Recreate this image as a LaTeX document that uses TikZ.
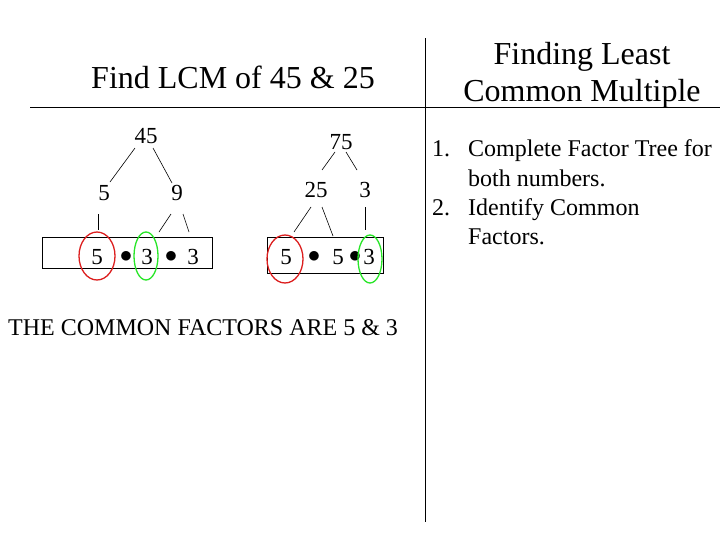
\documentclass[tikz,border=0pt]{standalone}
\usepackage{fontspec}
\setmainfont{Liberation Serif}
\begin{document}
\begin{tikzpicture}[x=1pt,y=-1pt,
  num/.style={inner sep=0pt,font=\fontsize{23}{23}\selectfont},
  lst/.style={anchor=base west,inner sep=0pt,font=\fontsize{24}{24}\selectfont},
  ln/.style={black,line width=0.6pt},
  red/.style={draw={rgb,255:red,220;green,30;blue,30},line width=1.3pt},
  grn/.style={draw={rgb,255:red,40;green,230;blue,40},line width=1.3pt}]
\useasboundingbox (0,0) rectangle (728,546);
\fill[white] (0,0) rectangle (728,546);
\node[font=\fontsize{32}{32}\selectfont] (t1) at (233,77) {Find LCM of 45 \& 25};
\node[font=\fontsize{32}{37}\selectfont,align=center] (t2) at (582,75) {Finding Least\\Common Multiple};
\coordinate (h1) at (30,107); \coordinate (h2) at (720,107);
\draw[ln] (h1) -- (h2);
\coordinate (v1) at (425,38); \coordinate (v2) at (425,522);
\draw[ln] (v1) -- (v2);
% list
\node[lst] (l1) at (432,156) {1.};
\node[lst] (l1a) at (468,156) {Complete Factor Tree for};
\node[lst] (l1b) at (468,186) {both numbers.};
\node[lst] (l2) at (432,215) {2.};
\node[lst] (l2a) at (468,215) {Identify Common};
\node[lst] (l2b) at (468,244) {Factors.};
\node[lst] (cf) at (8,335) {THE COMMON FACTORS ARE 5 \& 3};
% left tree
\node[num] (a45) at (146,136) {45};
\node[num] (a5) at (104,193) {5};
\node[num] (a9) at (177,193) {9};
\draw[ln] (135,148) -- (110,182);
\draw[ln] (153,148) -- (172,183);
\draw[ln] (98,214) -- (98,230);
\draw[ln] (171,214) -- (159,232);
\draw[ln] (183,214) -- (189,232);
\node[draw,ln,minimum width=170pt,minimum height=31pt,inner sep=0pt] (bx1) at (127,252.5) {};
\node[num] (b5) at (97,257) {5};
\node[num] (bd1) at (126,257) {$\bullet$};
\node[num] (b3) at (147,257) {3};
\node[num] (bd2) at (171,257) {$\bullet$};
\node[num] (b3b) at (193,257) {3};
\draw[red] (97,256) ellipse [x radius=18,y radius=24];
\draw[grn] (146,256) ellipse [x radius=12,y radius=24];
% right tree
\node[num] (c75) at (341,142) {75};
\node[num] (c25) at (316,190) {25};
\node[num] (c3) at (365,190) {3};
\draw[ln] (335,152) -- (322,170);
\draw[ln] (346,152) -- (357,170);
\draw[ln] (311,207) -- (294,232);
\draw[ln] (322,207) -- (333,236);
\draw[ln] (365,207) -- (365,230);
\node[draw,ln,minimum width=116pt,minimum height=36pt,inner sep=0pt] (bx2) at (325,255) {};
\node[num] (d5) at (286,257) {5};
\node[num] (dd1) at (314,257) {$\bullet$};
\node[num] (d5b) at (338,257) {5};
\node[num] (dd2) at (355,257) {$\bullet$};
\node[num] (d3) at (369,257) {3};
\draw[red] (285,259) ellipse [x radius=18,y radius=24];
\draw[grn] (370,259) ellipse [x radius=12,y radius=24];
\end{tikzpicture}
\end{document}
